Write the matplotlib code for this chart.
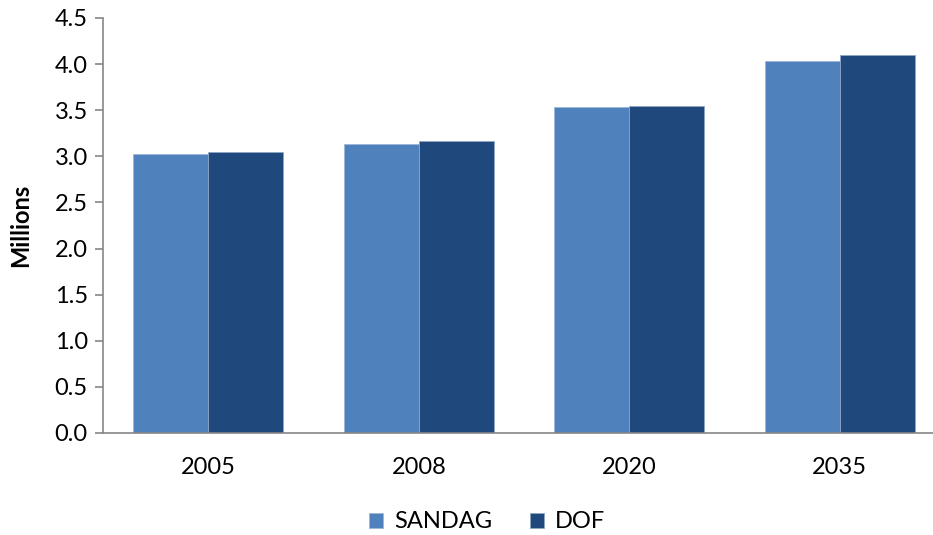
import matplotlib
matplotlib.use("Agg")
import matplotlib.pyplot as plt
import numpy as np

years = ["2005", "2008", "2020", "2035"]
sandag = [3.03, 3.13, 3.54, 4.03]
dof = [3.05, 3.17, 3.55, 4.10]
yticks = [0.0, 0.5, 1.0, 1.5, 2.0, 2.5, 3.0, 3.5, 4.0, 4.5]

plt.rcParams["font.family"] = ["Lato", "DejaVu Sans"]

fig = plt.figure(figsize=(9.33, 5.35), dpi=100)
ax = fig.add_axes([0.1104, 0.1907, 0.9026, 0.7757])

x = np.arange(len(years))
w = 0.356
ax.bar(x - w / 2, sandag, w, color="#4F81BD", edgecolor="#9DB5D9", linewidth=0.6, label="SANDAG")
ax.bar(x + w / 2, dof, w, color="#1F497D", edgecolor="#8FA6C6", linewidth=0.6, label="DOF")

ax.set_xlim(-0.5, len(years) - 0.5)
ax.set_ylim(0, 4.5)
ax.set_yticks(yticks)
ax.set_yticklabels([f"{v:.1f}" for v in yticks])
ax.set_xticks(x)
ax.set_xticklabels(years)

for s in ["top", "right"]:
    ax.spines[s].set_visible(False)
for s in ["left", "bottom"]:
    ax.spines[s].set_color("#868686")
    ax.spines[s].set_linewidth(1.2)

ax.tick_params(axis="y", length=6, width=1.2, color="#868686", labelsize=17, pad=5)
ax.tick_params(axis="x", length=0, labelsize=17, pad=17)

ax.set_ylabel("Millions", fontsize=17, fontweight="bold", labelpad=16)

fig.legend(loc="lower center", bbox_to_anchor=(0.522, -0.035), ncol=2, frameon=False,
           fontsize=17, handlelength=0.6, handleheight=0.6, columnspacing=1.6,
           handletextpad=0.45)

fig.savefig("out.png", dpi=100)
